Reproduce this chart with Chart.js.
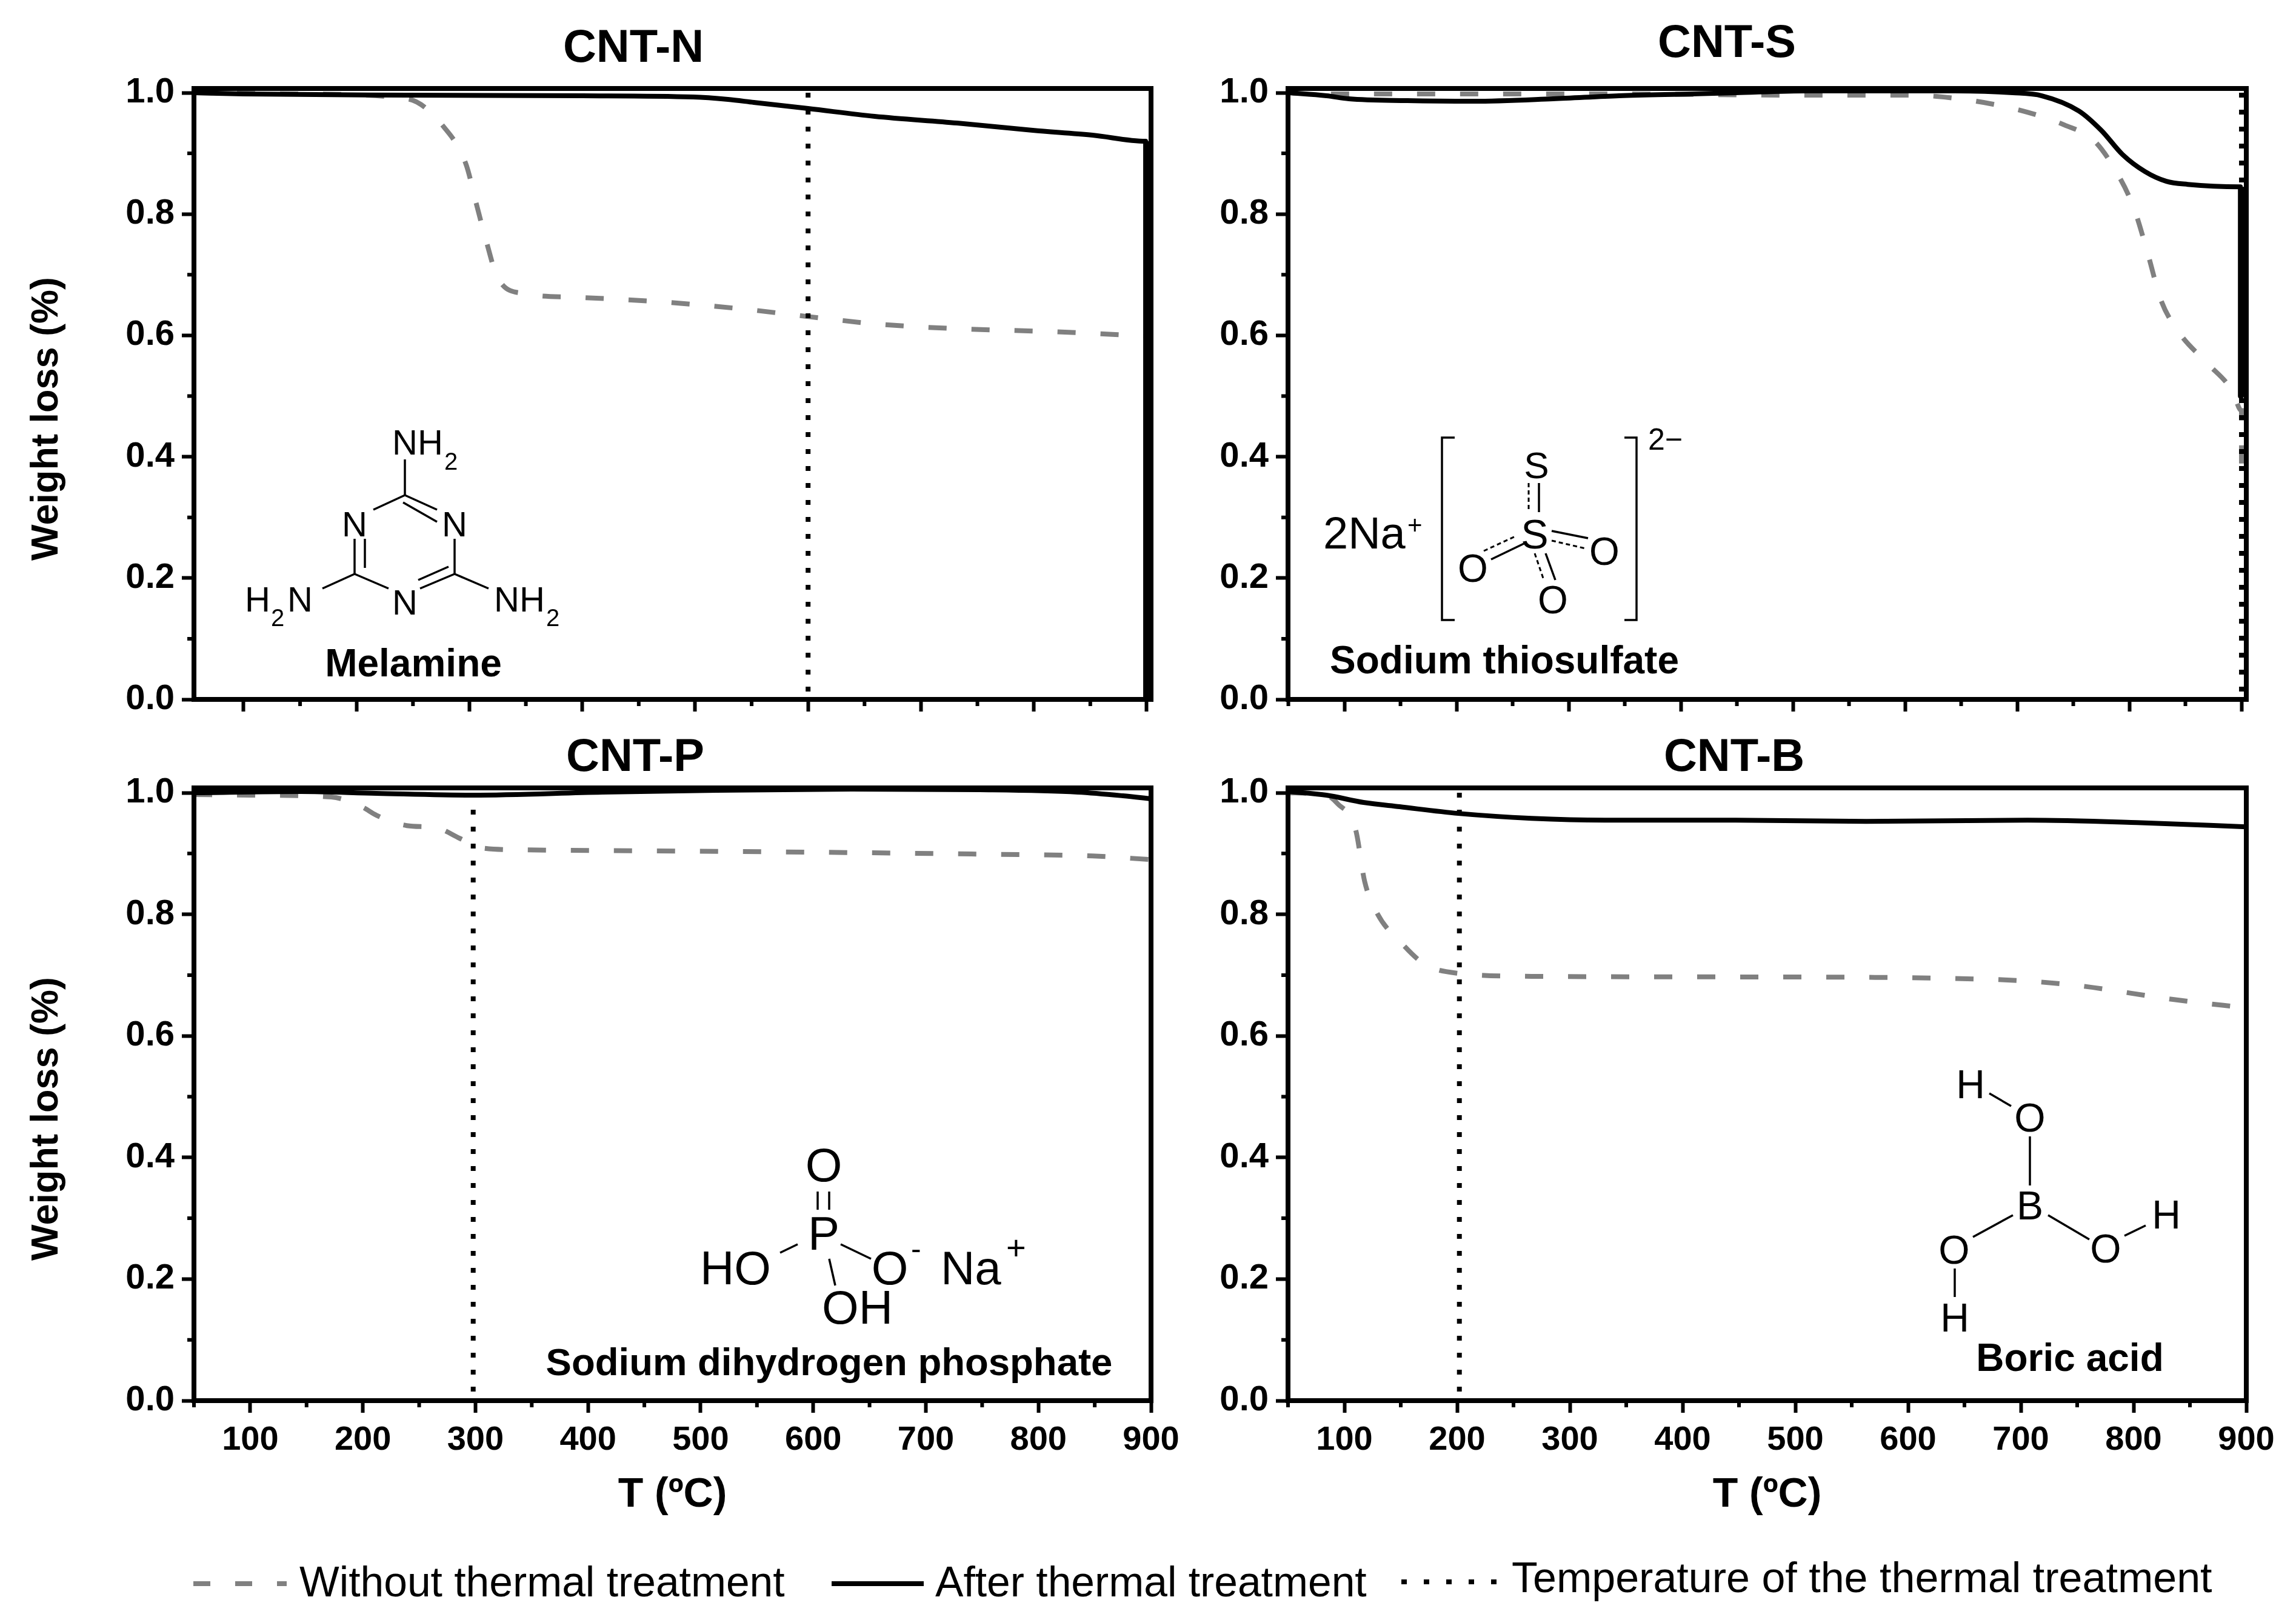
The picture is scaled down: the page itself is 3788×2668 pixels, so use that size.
<!DOCTYPE html>
<html><head><meta charset="utf-8">
<style>
html,body{margin:0;padding:0;background:#fff;width:3788px;height:2668px;overflow:hidden}
canvas{position:absolute;display:block}
svg{position:absolute;left:0;top:0;pointer-events:none}
svg text{font-family:"Liberation Sans",Arial,sans-serif;fill:#000}
svg .b{font-weight:bold}
svg line,svg path{stroke:#000;fill:none}
svg .m{stroke-width:3.5}
svg .d{stroke-width:3;stroke-dasharray:7 5}
</style>
<script src="https://cdn.jsdelivr.net/npm/chart.js@4"></script>
</head><body>
<canvas id="cN"></canvas><canvas id="cS"></canvas><canvas id="cP"></canvas><canvas id="cB"></canvas>
<svg width="3788" height="2668" viewBox="0 0 3788 2668">
  <!-- panel titles -->
  <text class="b" font-size="76" text-anchor="middle" x="1045" y="102">CNT-N</text>
  <text class="b" font-size="76" text-anchor="middle" x="2849" y="94">CNT-S</text>
  <text class="b" font-size="76" text-anchor="middle" x="1048" y="1272">CNT-P</text>
  <text class="b" font-size="76" text-anchor="middle" x="2861" y="1272">CNT-B</text>
  <!-- y axis titles -->
  <text class="b" font-size="63" text-anchor="middle" transform="translate(95,691) rotate(-90)">Weight loss (%)</text>
  <text class="b" font-size="63" text-anchor="middle" transform="translate(95,1846) rotate(-90)">Weight loss (%)</text>

  <!-- Melamine -->
  <g class="mel">
    <line class="m" x1="668" y1="758" x2="668" y2="817"/>
    <line class="m" x1="668" y1="817" x2="721" y2="841"/>
    <line class="m" x1="665" y1="829" x2="721" y2="861"/>
    <line class="m" x1="668" y1="817" x2="616" y2="841"/>
    <line class="m" x1="585" y1="889" x2="585" y2="947"/>
    <line class="m" x1="602" y1="889" x2="602" y2="937"/>
    <line class="m" x1="585" y1="947" x2="641" y2="971"/>
    <line class="m" x1="693" y1="971" x2="750" y2="947"/>
    <line class="m" x1="690" y1="957" x2="740" y2="935"/>
    <line class="m" x1="750" y1="947" x2="750" y2="889"/>
    <line class="m" x1="585" y1="947" x2="532" y2="971"/>
    <line class="m" x1="750" y1="947" x2="806" y2="971"/>
    <text font-size="58" x="647" y="750">NH</text><text font-size="40" x="733" y="775">2</text>
    <text font-size="58" text-anchor="middle" x="750" y="885">N</text>
    <text font-size="58" text-anchor="middle" x="585" y="885">N</text>
    <text font-size="58" text-anchor="middle" x="668" y="1014">N</text>
    <text font-size="58" x="404" y="1009">H</text><text font-size="40" x="447" y="1033">2</text><text font-size="58" x="474" y="1009">N</text>
    <text font-size="58" x="815" y="1009">NH</text><text font-size="40" x="901" y="1033">2</text>
    <text class="b" font-size="64" text-anchor="middle" x="682" y="1116">Melamine</text>
  </g>

  <!-- Sodium thiosulfate -->
  <g>
    <text font-size="74" x="2183" y="905">2Na</text><text font-size="42" x="2322" y="881">+</text>
    <path class="m" d="M2400 722H2379V1023H2400"/>
    <path class="m" d="M2680 722H2700V1023H2680"/>
    <text font-size="50" x="2719" y="742">2−</text>
    <text font-size="62" text-anchor="middle" x="2535" y="789">S</text>
    <text font-size="68" text-anchor="middle" x="2532" y="905">S</text>
    <text font-size="64" text-anchor="middle" x="2430" y="960">O</text>
    <text font-size="64" text-anchor="middle" x="2647" y="932">O</text>
    <text font-size="64" text-anchor="middle" x="2562" y="1012">O</text>
    <line class="m" x1="2539" y1="797" x2="2539" y2="845"/>
    <line class="d" x1="2522" y1="797" x2="2522" y2="845"/>
    <line class="m" x1="2460" y1="923" x2="2514" y2="897"/>
    <line class="d" x1="2448" y1="909" x2="2502" y2="884"/>
    <line class="m" x1="2560" y1="876" x2="2620" y2="888"/>
    <line class="d" x1="2560" y1="892" x2="2616" y2="905"/>
    <line class="m" x1="2550" y1="913" x2="2566" y2="957"/>
    <line class="d" x1="2532" y1="913" x2="2547" y2="957"/>
    <text class="b" font-size="64" text-anchor="middle" x="2482" y="1111">Sodium thiosulfate</text>
  </g>

  <!-- Sodium dihydrogen phosphate -->
  <g>
    <text font-size="78" text-anchor="middle" x="1359" y="1949">O</text>
    <text font-size="78" text-anchor="middle" x="1359" y="2062">P</text>
    <text font-size="78" x="1155" y="2119">HO</text>
    <text font-size="78" text-anchor="middle" x="1468" y="2119">O</text>
    <text font-size="50" x="1503" y="2077">-</text>
    <text font-size="78" x="1552" y="2119">Na</text>
    <text font-size="56" x="1660" y="2078">+</text>
    <text font-size="78" x="1356" y="2184">OH</text>
    <line class="m" x1="1349" y1="1966" x2="1349" y2="1996"/>
    <line class="m" x1="1368" y1="1966" x2="1368" y2="1996"/>
    <line class="m" x1="1287" y1="2067" x2="1316" y2="2053"/>
    <line class="m" x1="1387" y1="2053" x2="1437" y2="2077"/>
    <line class="m" x1="1368" y1="2077" x2="1378" y2="2121"/>
    <text class="b" font-size="63.5" text-anchor="middle" x="1368" y="2269">Sodium dihydrogen phosphate</text>
  </g>

  <!-- Boric acid -->
  <g>
    <text font-size="66" text-anchor="middle" x="3251" y="1812">H</text>
    <text font-size="66" text-anchor="middle" x="3349" y="1867">O</text>
    <text font-size="66" text-anchor="middle" x="3349" y="2012">B</text>
    <text font-size="66" text-anchor="middle" x="3474" y="2083">O</text>
    <text font-size="66" text-anchor="middle" x="3574" y="2027">H</text>
    <text font-size="66" text-anchor="middle" x="3224" y="2085">O</text>
    <text font-size="66" text-anchor="middle" x="3225" y="2197">H</text>
    <line class="m" x1="3282" y1="1804" x2="3318" y2="1825"/>
    <line class="m" x1="3349" y1="1875" x2="3349" y2="1956"/>
    <line class="m" x1="3379" y1="2005" x2="3447" y2="2045"/>
    <line class="m" x1="3505" y1="2039" x2="3540" y2="2022"/>
    <line class="m" x1="3321" y1="2005" x2="3255" y2="2041"/>
    <line class="m" x1="3225" y1="2093" x2="3225" y2="2140"/>
    <text class="b" font-size="64" text-anchor="middle" x="3415" y="2262">Boric acid</text>
  </g>

  <!-- legend -->
  <line x1="319" y1="2613" x2="473" y2="2613" style="stroke:#808080;stroke-width:8;stroke-dasharray:28 41"/>
  <text font-size="69.6" x="494" y="2634">Without thermal treatment</text>
  <line x1="1372" y1="2613" x2="1524" y2="2613" style="stroke:#000;stroke-width:8"/>
  <text font-size="69.6" x="1543" y="2634">After thermal treatment</text>
  <line x1="2312" y1="2610" x2="2470" y2="2610" style="stroke:#000;stroke-width:8;stroke-dasharray:9 28"/>
  <text font-size="70" x="2494" y="2627">Temperature of the thermal treatment</text>
</svg>
<script>
// ---- tick values and labels ----
const xTicks = [100,200,300,400,500,600,700,800,900];
const xMinorTicks = [50,150,250,350,450,550,650,750,850];
const yTicks = [0,0.2,0.4,0.6,0.8,1.0];
const yMinorTicks = [0.1,0.3,0.5,0.7,0.9];
const yLabels = ['0.0','0.2','0.4','0.6','0.8','1.0'];
const xLabel = 'T (ºC)';
const seriesNames = ['Without thermal treatment','After thermal treatment','Temperature of the thermal treatment'];

// ---- CNT-N ----
const nWithoutT = [56,150,245,278,297,306,315,325,348,392,472,545,600,619,659,732,819,899];
const nWithoutW = [1.0,0.998,0.99,0.942,0.882,0.818,0.755,0.695,0.669,0.663,0.655,0.643,0.631,0.627,0.619,0.611,0.606,0.599];
const nAfterT = [56,100,245,400,498,529,552,600,659,732,799,852,899,899,899.5,899.5];
const nAfterW = [1.0,0.998,0.996,0.995,0.993,0.989,0.984,0.974,0.961,0.950,0.938,0.930,0.920,0.0,0.0,0.92];
const nTreatT = [600,600];
const nTreatW = [1.0,0.0];
// ---- CNT-S ----
const sWithoutT = [88,332,514,599,628,670,709,742,768,787,804,817,828,845,869,892,900,900];
const sWithoutW = [0.998,0.998,0.996,0.996,0.994,0.984,0.968,0.947,0.922,0.874,0.810,0.731,0.659,0.603,0.555,0.508,0.476,0.364];
const sAfterT = [50,84,104,156,215,286,345,410,449,514,644,696,722,755,775,794,814,833,852,899,899,900,900];
const sAfterW = [1.0,0.995,0.990,0.987,0.986,0.990,0.995,0.998,1.0,1.003,1.003,1.0,0.995,0.970,0.938,0.898,0.870,0.854,0.849,0.845,0.50,0.50,0.845];
const sTreatT = [900,900];
const sTreatW = [1.0,0.0];
// ---- CNT-P ----
const pWithoutT = [50,100,172,199,212,239,266,286,306,346,480,614,748,848,900];
const pWithoutW = [0.997,0.996,0.993,0.977,0.963,0.946,0.942,0.925,0.909,0.906,0.904,0.902,0.899,0.896,0.890];
const pAfterT = [50,145,212,297,413,514,634,748,835,875,900];
const pAfterW = [1.0,1.002,0.999,0.996,1.001,1.004,1.006,1.005,1.001,0.995,0.990];
const pTreatT = [298,298];
const pTreatW = [1.0,0.0];
// ---- CNT-B ----
const bWithoutT = [50,84,94,110,118,129,152,172,201,266,447,674,745,835,900];
const bWithoutW = [1.0,0.996,0.982,0.939,0.854,0.802,0.75,0.717,0.703,0.698,0.697,0.693,0.684,0.660,0.646];
const bAfterT = [50,84,117,149,201,266,331,447,563,706,803,900];
const bAfterW = [1.002,0.996,0.984,0.977,0.966,0.958,0.955,0.955,0.953,0.955,0.951,0.944];
const bTreatT = [202,202];
const bTreatW = [1.0,0.0];

const pts = (t,w) => t.map((v,i)=>({x:v,y:w[i]}));
const FONT = '"Liberation Sans",Arial,sans-serif';

const framePlugin = {
  id:'frame',
  afterDatasetsDraw(chart){
    const {ctx,chartArea:a,scales:{x,y}} = chart;
    ctx.save();
    ctx.strokeStyle='#000'; ctx.lineWidth=8;
    ctx.strokeRect(a.left,a.top,a.right-a.left,a.bottom-a.top);
    ctx.lineWidth=6; ctx.beginPath();
    xMinorTicks.forEach(v=>{ if(v<x.min||v>x.max) return; const p=x.getPixelForValue(v); ctx.moveTo(p,a.bottom); ctx.lineTo(p,a.bottom+11); });
    yMinorTicks.forEach(v=>{ const p=y.getPixelForValue(v); ctx.moveTo(a.left,p); ctx.lineTo(a.left-11,p); });
    ctx.stroke(); ctx.restore();
  }
};

function panel(id, geo, xr, yMax, showX, w, a, d){
  const c = document.getElementById(id);
  const L=140, R=60, T=60, B = showX ? 197 : 60;
  c.width = geo.right-geo.left+L+R; c.height = geo.bottom-geo.top+T+B;
  c.style.left=(geo.left-L)+'px'; c.style.top=(geo.top-T)+'px';
  new Chart(c,{
    type:'line',
    data:{datasets:[
      {label:seriesNames[2],data:d,borderColor:'#000',borderWidth:8,borderDash:[8,20],borderCapStyle:'butt',pointRadius:0,tension:0},
      {label:seriesNames[1],data:a,borderColor:'#000',borderWidth:8,pointRadius:0,cubicInterpolationMode:'monotone',borderJoinStyle:'round'},
      {label:seriesNames[0],data:w,borderColor:'#808080',borderWidth:8,borderDash:[30,41],borderCapStyle:'butt',pointRadius:0,cubicInterpolationMode:'monotone'}
    ]},
    plugins:[framePlugin],
    options:{
      responsive:false,animation:false,devicePixelRatio:1,parsing:true,
      layout:{autoPadding:false,padding:{left:0,top:T,right:R,bottom:0}},
      plugins:{legend:{display:false},title:{display:false},tooltip:{enabled:false}},
      scales:{
        x:{type:'linear',min:xr[0],max:xr[1],
          afterBuildTicks:s=>{s.ticks=xTicks.map(v=>({value:v}));},
          afterFit:s=>{s.height=B;},
          border:{display:false},
          grid:{drawOnChartArea:false,drawTicks:true,tickLength:20,tickWidth:6,tickColor:'#000'},
          ticks:{display:showX,color:'#000',font:{family:FONT,size:56,weight:'bold'},padding:12,maxRotation:0,autoSkip:false,callback:v=>String(v)},
          title:{display:showX,text:xLabel,color:'#000',font:{family:FONT,size:68,weight:'bold'},padding:0}
        },
        y:{type:'linear',min:0,max:yMax,
          afterBuildTicks:s=>{s.ticks=yTicks.map(v=>({value:v}));},
          afterFit:s=>{s.width=L;},
          border:{display:false},
          grid:{drawOnChartArea:false,drawTicks:true,tickLength:20,tickWidth:6,tickColor:'#000'},
          ticks:{color:'#000',font:{family:FONT,size:58,weight:'bold'},padding:12,autoSkip:false,callback:v=>yLabels[yTicks.indexOf(v)]}
        }
      }
    }
  });
}

panel('cN',{left:320,right:1899,top:146,bottom:1154},[56,903.8],1.007,false,pts(nWithoutT,nWithoutW),pts(nAfterT,nAfterW),pts(nTreatT,nTreatW));
panel('cS',{left:2125,right:3706,top:146,bottom:1154},[49.7,904.3],1.007,false,pts(sWithoutT,sWithoutW),pts(sAfterT,sAfterW),pts(sTreatT,sTreatW));
panel('cP',{left:320,right:1899,top:1300,bottom:2311},[50,900],1.008,true,pts(pWithoutT,pWithoutW),pts(pAfterT,pAfterW),pts(pTreatT,pTreatW));
panel('cB',{left:2125,right:3706,top:1300,bottom:2311},[50,900],1.008,true,pts(bWithoutT,bWithoutW),pts(bAfterT,bAfterW),pts(bTreatT,bTreatW));
</script>
</body></html>
